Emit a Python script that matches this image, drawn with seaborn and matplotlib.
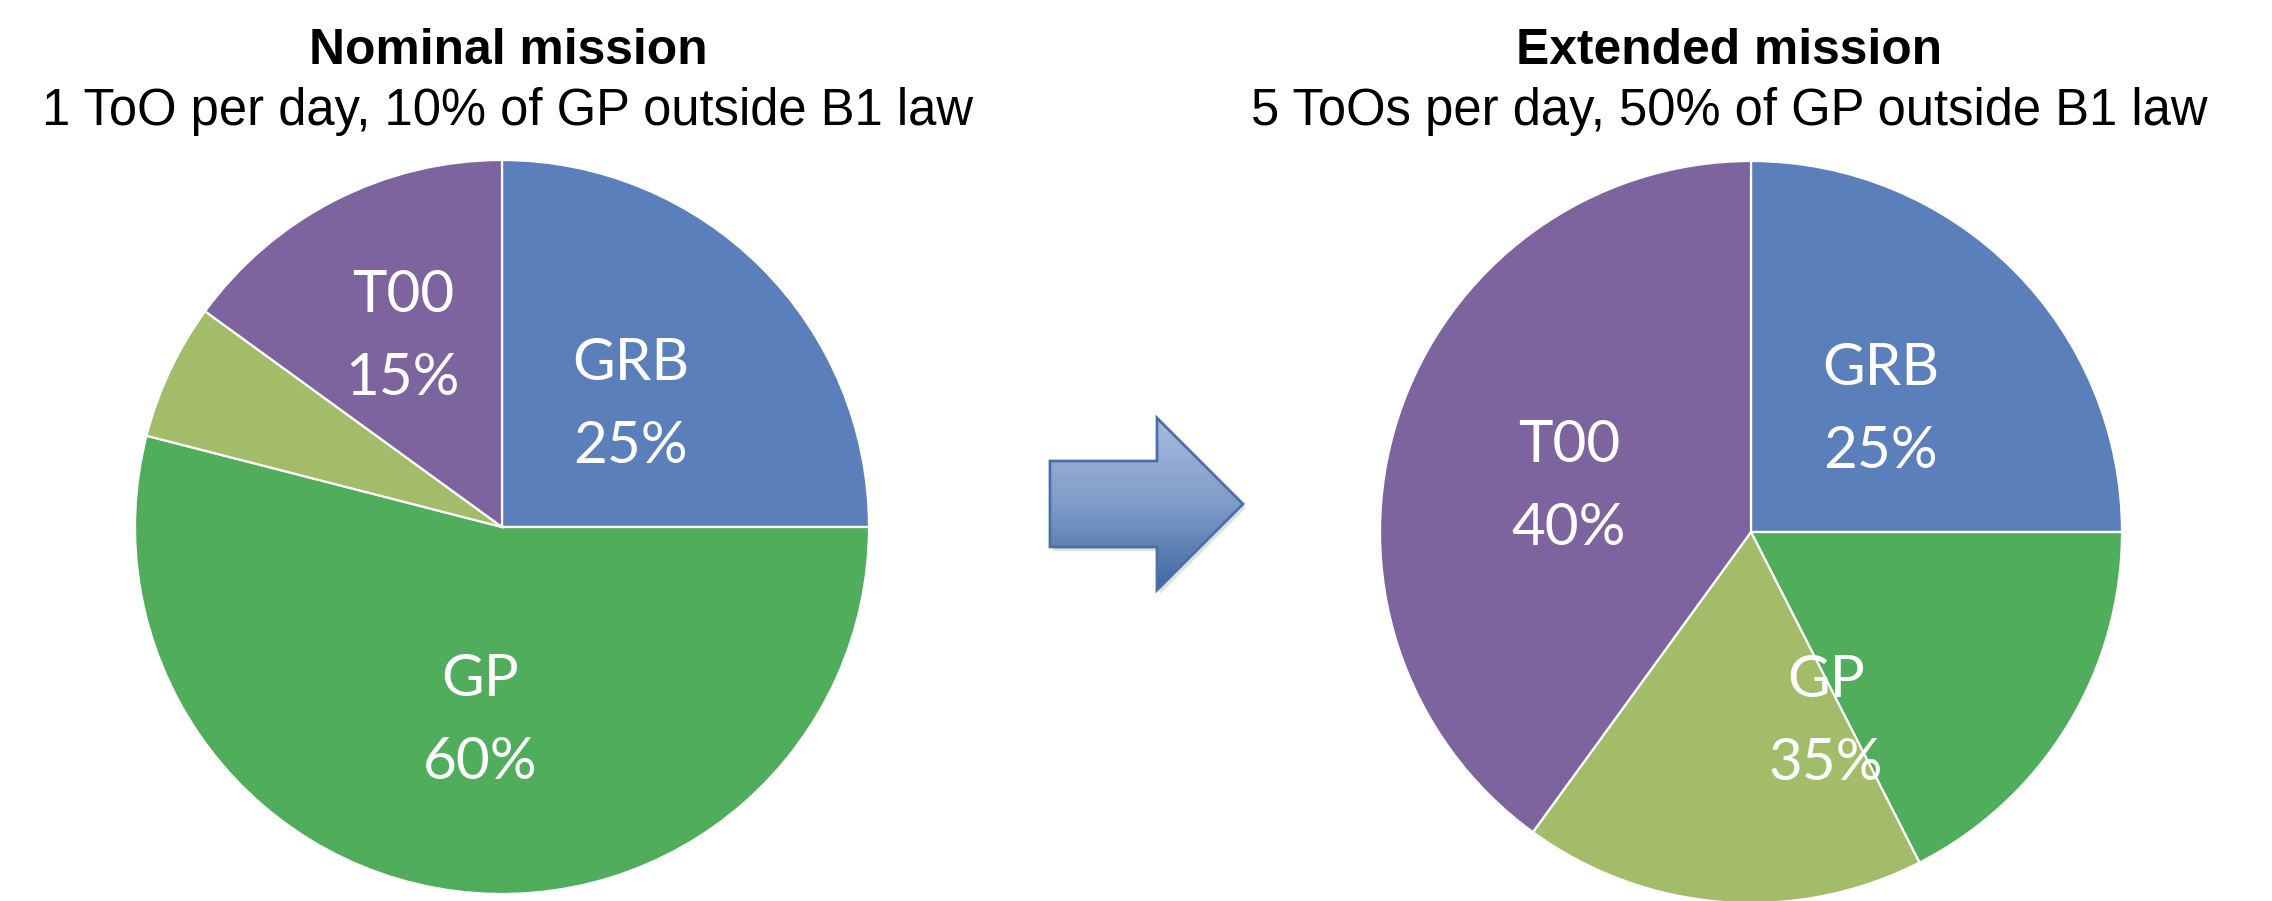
import numpy as np
import matplotlib
matplotlib.use("Agg")
import matplotlib.pyplot as plt
from matplotlib.patches import Polygon
import seaborn as sns

# ---- data ----
groups = ["GRB", "GP", "T00"]
nominal_share = [25, 60, 15]          # % of observing time
extended_share = [25, 35, 40]
nominal_gp_outside = 0.10             # fraction of GP outside B1 law
extended_gp_outside = 0.50
titles = ["Nominal mission", "Extended mission"]
subtitles = ["1 ToO per day, 10% of GP outside B1 law",
             "5 ToOs per day, 50% of GP outside B1 law"]

sns.set_theme(style="white")
palette = sns.color_palette(["#5B7FBB", "#4FAD5B", "#A3BC69", "#7D649E"])

W, H = 2272, 901
fig = plt.figure(figsize=(W / 100, H / 100), dpi=100)
fig.patch.set_facecolor("white")

label_font = dict(family=["Lato", "DejaVu Sans"], size=42, weight="normal",
                  color="white", ha="center", va="center", linespacing=1.7)


def wedge_values(shares, outside):
    grb, gp, too = shares
    return [grb, gp * (1 - outside), gp * outside, too]


def draw_pie(cx, cy, r, shares, outside, label_offsets):
    ax = fig.add_axes([(cx - r) / W, 1 - (cy + r) / H, 2 * r / W, 2 * r / H])
    ax.pie(wedge_values(shares, outside), colors=palette, startangle=90,
           counterclock=False, radius=1,
           wedgeprops=dict(edgecolor="white", linewidth=1.6, antialiased=True))
    ax.set_xlim(-1, 1)
    ax.set_ylim(-1, 1)
    ax.axis("off")
    for name, share, (dx, dy) in zip(groups, shares, label_offsets):
        ax.text(dx / r, -dy / r, f"{name}\n{share}%", **label_font)
    return ax


# label centres as pixel offsets from each pie centre
draw_pie(502, 527, 367, nominal_share, nominal_gp_outside,
         [(129, -122), (-22, 194), (-99, -190)])
draw_pie(1751, 532, 371, extended_share, extended_gp_outside,
         [(130, -122), (75, 190), (-182, -45)])

# overlay in pixel coordinates for headings and the arrow
ov = fig.add_axes([0, 0, 1, 1], zorder=5)
ov.set_xlim(0, W)
ov.set_ylim(H, 0)
ov.axis("off")
ov.patch.set_alpha(0)

for x, t, s in zip([508, 1729], titles, subtitles):
    ov.text(x, 51, t, family=["Liberation Sans", "DejaVu Sans"], weight="bold",
            size=35.8, ha="center", va="center", color="black")
    ov.text(x, 111, s, family=["Liberation Sans", "DejaVu Sans"],
            size=36.5, ha="center", va="center", color="black")

# gradient block arrow
arrow_pts = np.array([[1050, 461], [1157, 461], [1157, 418], [1243, 504],
                      [1157, 590], [1157, 547], [1050, 547]])
shadow = Polygon(arrow_pts + [3, 4], closed=True, facecolor="#000000",
                 alpha=0.12, edgecolor="none")
ov.add_patch(shadow)
grad = np.linspace(0, 1, 256)[:, None]
cmap = matplotlib.colors.LinearSegmentedColormap.from_list(
    "arrowfill", ["#A8BBDF", "#7F9BC9", "#3E68A0"])
img = ov.imshow(grad, cmap=cmap, aspect="auto",
                extent=[1050, 1243, 590, 418], zorder=6)
outline = Polygon(arrow_pts, closed=True, facecolor="none",
                  edgecolor="#4A70A6", linewidth=2, zorder=7)
ov.add_patch(outline)
img.set_clip_path(outline)
ov.set_xlim(0, W)
ov.set_ylim(H, 0)

fig.savefig("out.png", dpi=100, facecolor="white")
